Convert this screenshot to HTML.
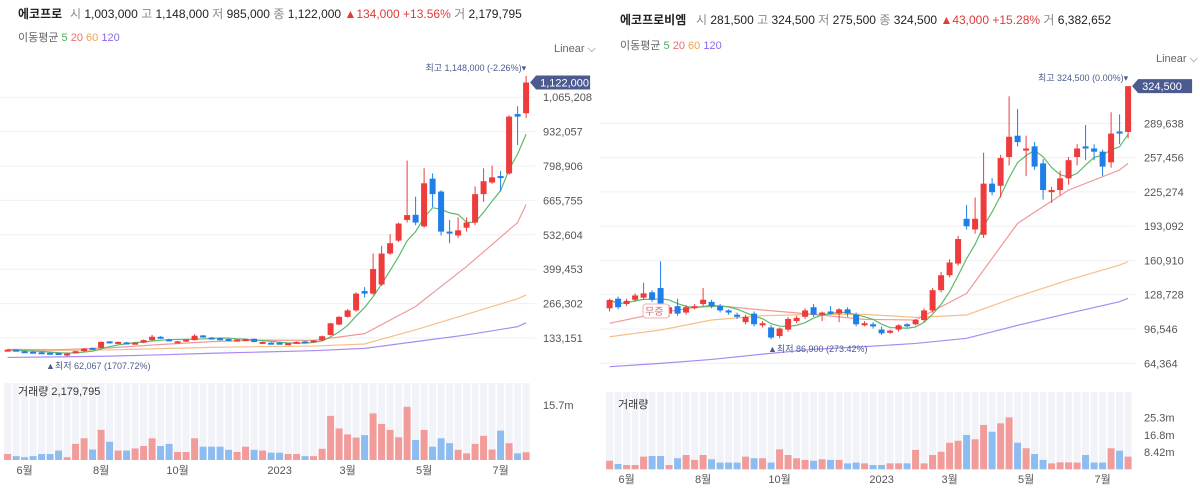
<!DOCTYPE html>
<html><head><meta charset="utf-8">
<style>
html,body{margin:0;padding:0;background:#fff;}
body{width:1200px;height:490px;overflow:hidden;font-family:"Liberation Sans","Noto Sans CJK KR",sans-serif;}
svg text{font-family:"Liberation Sans","Noto Sans CJK KR",sans-serif;}
</style></head>
<body>
<svg id="chart" width="1200" height="490" viewBox="0 0 1200 490" xmlns="http://www.w3.org/2000/svg">
  <g font-size="12">
    <text x="18" y="18" font-weight="bold" fill="#222">에코프로</text>
    <text x="70" y="18" fill="#888">시 <tspan fill="#222">1,003,000</tspan> 고 <tspan fill="#222">1,148,000</tspan> 저 <tspan fill="#222">985,000</tspan> 종 <tspan fill="#222">1,122,000</tspan> <tspan fill="#e03a3a">▲134,000 +13.56%</tspan> 거 <tspan fill="#222">2,179,795</tspan></text>
    <text x="18" y="41" font-size="11" fill="#666">이동평균 <tspan fill="#4caf50">5</tspan> <tspan fill="#ef6b6b">20</tspan> <tspan fill="#f0a050">60</tspan> <tspan fill="#8a6ae8">120</tspan></text>
    <text x="554" y="52" font-size="11" fill="#666">Linear ⌵</text>
  </g>
  <g font-size="12">
    <text x="620" y="24" font-weight="bold" fill="#222">에코프로비엠</text>
    <text x="696" y="24" fill="#888">시 <tspan fill="#222">281,500</tspan> 고 <tspan fill="#222">324,500</tspan> 저 <tspan fill="#222">275,500</tspan> 종 <tspan fill="#222">324,500</tspan> <tspan fill="#e03a3a">▲43,000 +15.28%</tspan> 거 <tspan fill="#222">6,382,652</tspan></text>
    <text x="620" y="49" font-size="11" fill="#666">이동평균 <tspan fill="#4caf50">5</tspan> <tspan fill="#ef6b6b">20</tspan> <tspan fill="#f0a050">60</tspan> <tspan fill="#8a6ae8">120</tspan></text>
    <text x="1156" y="62" font-size="11" fill="#666">Linear ⌵</text>
  </g>
  <g id="leftPanel"></g>
  <g id="rightPanel"></g>
</svg>
<script>
// ===== Left (에코프로) data, prices in thousands KRW =====
const leftOpen  = [85,88,82,80,78,76,75,70,75,82,95,95,120,113,116,110,115,125,138,128,115,120,125,143,135,132,129,122,126,130,112,115,115,108,113,120,116,124,145,185,215,240,315,305,340,460,510,590,610,565,750,700,545,530,560,580,690,735,760,770,1000,1003];
const leftClose = [88,86,79,78,76,74,73,73,82,92,90,118,115,118,112,115,125,138,133,122,120,127,142,137,131,129,125,127,129,118,118,110,110,113,118,115,124,140,190,215,240,305,305,400,460,500,576,609,580,732,690,545,540,550,580,690,740,755,752,990,990,1122];
const leftHigh  = [90,89,84,82,80,78,77,76,84,94,96,120,121,120,118,117,127,145,140,130,122,129,148,145,137,134,131,129,131,131,120,117,117,115,120,122,126,142,192,218,245,310,330,460,490,535,580,820,680,790,770,705,590,600,600,720,790,800,780,995,1030,1148];
const leftLow   = [83,84,78,76,73,70,70,62,73,80,88,93,112,110,110,108,113,123,130,120,112,118,123,134,129,126,122,120,124,116,110,108,108,106,111,113,114,122,143,183,212,235,290,300,335,455,505,580,570,560,640,530,500,520,545,570,660,730,700,765,880,985];
const leftVol   = [1.7,1.1,0.8,1.1,1.7,1.7,2.7,0.8,4.6,6.2,3.0,8.6,5.2,2.7,2.7,3.3,4.0,6.2,4.0,4.6,2.3,2.3,6.2,3.8,3.8,3.8,2.9,2.3,3.8,2.9,2.7,2.1,2.1,1.7,1.7,1.1,1.1,3.2,12.6,9.0,7.3,6.4,7.1,13.3,10.3,8.6,6.5,15.2,5.7,8.6,3.8,6.2,4.8,2.9,1.9,4.6,6.9,3.0,8.4,4.8,1.9,2.2];
const maIndex   = [0,6,12,18,24,30,36,42,48,54,60,61];
const leftMa20  = [89,88,95,108,119,125,124,150,255,410,580,650];
const leftMa60  = [83,85,87,92,97,100,102,110,165,225,285,300];
const leftMa120 = [58,60,63,68,74,79,84,93,119,145,177,192];
const leftTicks = [133151,266302,399453,532604,665755,798906,932057,1065208];
const leftMonths = ["6월","8월","10월","2023","3월","5월","7월"];
const leftMonthIdx = [2,11,20,32,40,49,58];

// ===== Right (에코프로비엠) data =====
const rightOpen  = [116,125,120,124,126,131,135,111,118,112,117,120,122,118,114,110,103,111,100,98,90,96,104,108,117,110,113,111,115,110,100,101,96,93,96,101,101,105,114,133,147,158,200,190,185,233,231,258,278,264,268,252,225,227,238,258,268,266,263,253,282,281.5];
const rightClose = [123.8,117,123,128,130,124,120,117,111,117,118,124,118,114,112,108,108,101,102,88.5,97,106,107,114,110,112,111,115,111,101,102,99,92.5,95,100,100,105,114,133,147,159,181,193,200,233,225,257,277,272,266,249,227,227,238,255,266,266,263,249,280,280,324.5];
const rightHigh  = [125,127,125,130,140,133,160,119,125,119,120,135,124,120,115,112,110,113,104,100,98,108,109,116,120,113,118,116,117,112,104,103,99,96,101,102,106,116,135,150,162,184,213,220,262,238,260,315,303,278,272,256,230,245,258,270,288,270,265,300,298,324.5];
const rightLow   = [113,115,118,122,124,122,118,108,109,110,115,118,116,112,110,106,101,99,98,86.9,88,94,102,106,108,104,110,103,108,99,99,97,91,92,94,98,100,103,112,131,145,156,190,186,182,222,220,250,268,240,246,218,215,222,232,250,255,255,240,248,270,275.5];
const rightVol   = [4.2,2.6,2.1,2.1,6.2,6.5,6.5,2.1,5.4,7.0,4.6,7.0,4.9,3.3,3.3,3.3,6.2,5.4,5.4,3.3,9.8,7.0,5.4,4.6,4.2,4.9,4.6,4.6,2.9,3.3,2.9,2.1,2.1,2.9,2.9,2.9,9.5,2.9,7.0,8.6,13.0,14.0,16.8,14.7,21.7,18.4,22.5,25.4,13.0,10.3,7.5,4.6,2.9,3.4,3.4,3.3,7.0,3.3,3.3,10.3,9.1,6.2];
const rightMa20  = [101.9,112,119,114.4,110.3,105.6,105,130,195.7,227,245.8,252];
const rightMa60  = [89.3,95.6,105,109,110.3,110.3,107.5,109.7,127,142.6,156.6,159.8];
const rightMa120 = [61.2,64.3,68,73,77.5,80,83,87.8,100,111.3,122.2,125.4];
const rightTicks = [64364,96546,128728,160910,193092,225274,257456,289638];
const rightMonths = ["6월","8월","10월","2023","3월","5월","7월"];
const rightMonthIdx = [2,11,20,32,40,49,58];

const NS = "http://www.w3.org/2000/svg";
const RED = "#ee3b3b", BLUE = "#1f7ee8", VRED = "#f19b9b", VBLUE = "#8cbcf0";

function mk(parent, tag, attrs) {
  const e = document.createElementNS(NS, tag);
  for (const k in attrs) e.setAttribute(k, attrs[k]);
  parent.appendChild(e);
  return e;
}
function fmt(n){ return n.toLocaleString("en-US"); }

function drawPanel(g, c) {
  const n = c.open.length;
  const x = i => c.x0 + i * c.step;
  // grid + y labels
  c.ticks.forEach(t => {
    const yy = c.y(t / 1000);
    const ln = mk(g, "line", {x1: c.gx0, x2: c.gx1, y1: yy, y2: yy, stroke: "#f0f0f0", "stroke-width": 1});
    
    
    const tx = mk(g, "text", {x: c.labelX, y: yy + 4, "font-size": 11, fill: "#555"});
    tx.textContent = fmt(t);
    
    
  });
  // volume stripes
  for (let i = 0; i < n; i++) {
    const s = mk(g, "rect", {x: x(i) - 3.5, y: c.vTop, width: 7, height: c.vBase - c.vTop, fill: "#f2f3f8"});
    
    
  }
  // volume bars
  for (let i = 0; i < n; i++) {
    const up = c.close[i] >= c.open[i];
    const h = c.vol[i] * c.vScale;
    const b = mk(g, "rect", {x: x(i) - 3.5, y: c.vBase - h, width: 7, height: h, fill: up ? VRED : VBLUE});
    
    
  }
  // MA lines
  const maLine = (vals, color, name) => {
    const pts = vals.map((v, k) => x(maIndex[k]) + "," + c.y(v)).join(" ");
    const p = mk(g, "polyline", {points: pts, fill: "none", stroke: color, "stroke-width": 1.2});
    
    
  };
  maLine(c.ma120, "#a98af2", "ma120-line");
  maLine(c.ma60, "#f5bf8a", "ma60-line");
  maLine(c.ma20, "#f09a9a", "ma20-line");
  const ma5 = [];
  for (let i = 0; i < n; i++) {
    let s = 0, k = 0;
    for (let j = Math.max(0, i - 4); j <= i; j++) { s += c.close[j]; k++; }
    ma5.push(x(i) + "," + c.y(s / k));
  }
  const p5 = mk(g, "polyline", {points: ma5.join(" "), fill: "none", stroke: "#5cba6a", "stroke-width": 1.2});
  
  
  // candles
  for (let i = 0; i < n; i++) {
    const up = c.close[i] >= c.open[i];
    const col = up ? RED : BLUE;
    const w = mk(g, "line", {x1: x(i), x2: x(i), y1: c.y(c.high[i]), y2: c.y(c.low[i]), stroke: col, "stroke-width": 1});
    
    
    const t = c.y(Math.max(c.open[i], c.close[i])), bt = c.y(Math.min(c.open[i], c.close[i]));
    const r = mk(g, "rect", {x: x(i) - 3, y: t, width: 6, height: Math.max(2, bt - t), fill: col});
    
    
  }
  // month labels
  c.months.forEach((m, k) => {
    const tx = mk(g, "text", {x: x(c.monthIdx[k]), y: c.monthY, "font-size": 11, fill: "#555", "text-anchor": "middle"});
    tx.textContent = m;
    
    
  });
  // volume axis labels
  c.vTicks.forEach(v => {
    const tx = mk(g, "text", {x: c.labelX, y: c.vBase - v * c.vScale + 4, "font-size": 11, fill: "#555"});
    tx.textContent = v + "m";
    
    
  });
  // volume title
  const vt = mk(g, "text", {x: c.gx0 + 18, y: c.vTitleY, "font-size": 11, fill: "#333"});
  vt.textContent = c.vTitle;
  
  
  // current price tag
  const last = c.close[n - 1];
  const ty = c.y(last);
  const tag = mk(g, "path", {d: `M${x(n-1)+4},${ty} L${x(n-1)+10},${ty-7} L${x(n-1)+64},${ty-7} L${x(n-1)+64},${ty+7} L${x(n-1)+10},${ty+7} Z`, fill: "#4b5b8f"});
  
  
  const tt = mk(g, "text", {x: x(n-1) + 14, y: ty + 4, "font-size": 11, fill: "#fff"});
  tt.textContent = fmt(Math.round(last * 1000));
  
  
  // high marker
  const hm = mk(g, "text", {x: x(n-1), y: c.y(c.high[n-1]) - 5, "font-size": 9, fill: "#4b5b8f", "text-anchor": "end"});
  hm.textContent = c.highText;
  
  
  const lm = mk(g, "text", {x: c.lowX, y: c.lowY, "font-size": 9, fill: "#4b5b8f"});
  lm.textContent = c.lowText;
  
  
}

drawPanel(document.getElementById("leftPanel"), {
  open: leftOpen, close: leftClose, high: leftHigh, low: leftLow, vol: leftVol,
  ma20: leftMa20, ma60: leftMa60, ma120: leftMa120, ticks: leftTicks,
  months: leftMonths, monthIdx: leftMonthIdx,
  x0: 7.6, step: 8.5, y: v => 372.4 - v * 0.25836,
  gx0: 0, gx1: 535, labelX: 543,
  vTop: 383, vBase: 460, vScale: 3.503, vTicks: [15.7],
  vTitle: "거래량 2,179,795", vTitleY: 395, monthY: 474,
  highText: "최고 1,148,000 (-2.26%)▾", lowText: "▲최저 62,067 (1707.72%)", lowX: 46, lowY: 369
});
drawPanel(document.getElementById("rightPanel"), {
  open: rightOpen, close: rightClose, high: rightHigh, low: rightLow, vol: rightVol,
  ma20: rightMa20, ma60: rightMa60, ma120: rightMa120, ticks: rightTicks,
  months: rightMonths, monthIdx: rightMonthIdx,
  x0: 609.6, step: 8.5, y: v => 123.3 + (289.638 - v) * 1.06537,
  gx0: 600, gx1: 1135, labelX: 1144,
  vTop: 392, vBase: 469.3, vScale: 2.043, vTicks: [25.3, 16.8, 8.42],
  vTitle: "거래량", vTitleY: 408, monthY: 483,
  highText: "최고 324,500 (0.00%)▾", lowText: "▲최저 86,900 (273.42%)", lowX: 768, lowY: 352
});
// 무증 badge (right panel)
const rp = document.getElementById("rightPanel");
const badge = mk(rp, "rect", {x: 643, y: 304, width: 26, height: 14, rx: 3, fill: "#fff", stroke: "#f0b0b0"});


const bt = mk(rp, "text", {x: 645, y: 315, "font-size": 10, fill: "#d07070"});
bt.textContent = "무증";


</script>
</body></html>
